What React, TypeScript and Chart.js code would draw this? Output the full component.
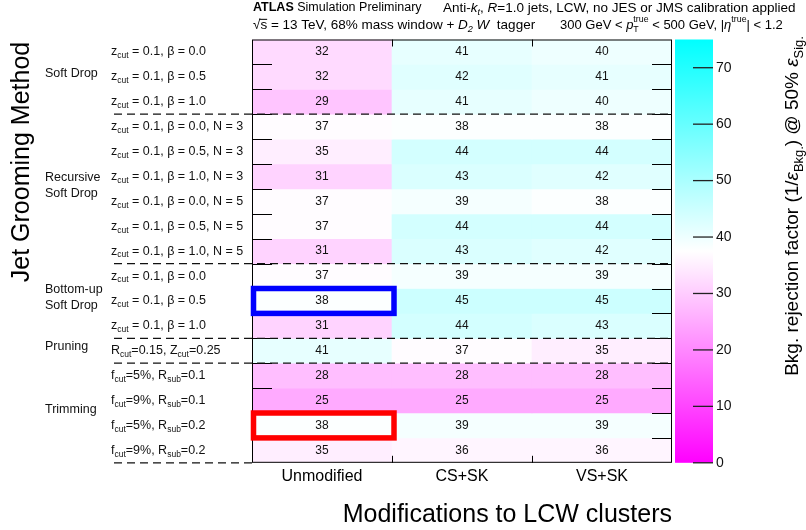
import React, { useEffect, useRef } from "react";
import { Chart, registerables } from "chart.js";

Chart.register(...registerables);

const FONT = "'Liberation Sans', Arial, Helvetica, sans-serif";

// ---------- data ----------
const columns = ["Unmodified", "CS+SK", "VS+SK"];
const rowLabels = [
  "z_{cut} = 0.1, β = 0.0",
  "z_{cut} = 0.1, β = 0.5",
  "z_{cut} = 0.1, β = 1.0",
  "z_{cut} = 0.1, β = 0.0, N = 3",
  "z_{cut} = 0.1, β = 0.5, N = 3",
  "z_{cut} = 0.1, β = 1.0, N = 3",
  "z_{cut} = 0.1, β = 0.0, N = 5",
  "z_{cut} = 0.1, β = 0.5, N = 5",
  "z_{cut} = 0.1, β = 1.0, N = 5",
  "z_{cut} = 0.1, β = 0.0",
  "z_{cut} = 0.1, β = 0.5",
  "z_{cut} = 0.1, β = 1.0",
  "R_{cut}=0.15, Z_{cut}=0.25",
  "f_{cut}=5%, R_{sub}=0.1",
  "f_{cut}=9%, R_{sub}=0.1",
  "f_{cut}=5%, R_{sub}=0.2",
  "f_{cut}=9%, R_{sub}=0.2",
];
const unmodified = [32, 32, 29, 37, 35, 31, 37, 37, 31, 37, 38, 31, 41, 28, 25, 38, 35];
const csSk = [41, 42, 41, 38, 44, 43, 39, 44, 43, 39, 45, 44, 37, 28, 25, 39, 36];
const vsSk = [40, 41, 40, 38, 44, 42, 38, 44, 42, 39, 45, 43, 35, 28, 25, 39, 36];

const groupNames = [["Soft Drop"], ["Recursive", "Soft Drop"], ["Bottom-up", "Soft Drop"], ["Pruning"], ["Trimming"]];
const groupFirstRow = [0, 3, 9, 12, 13];
const groupLastRow = [2, 8, 11, 12, 16];

const highlightRows = [10, 15];
const highlightCols = [0, 0];
const highlightColors = ["#0000ff", "#ff0000"];

const colorbarTicks = [0, 10, 20, 30, 40, 50, 60, 70];
const zMin = 0;
const zMax = 75;

const xTitle = "Modifications to LCW clusters";
const yTitle = "Jet Grooming Method";

const matrix = [unmodified, csSk, vsSk];

// ---------- helpers ----------
function heat(v: number): string {
  const t = Math.max(0, Math.min(1, (v - zMin) / (zMax - zMin)));
  if (t < 0.5) {
    const s = t / 0.5;
    return `rgb(255,${Math.round(255 * s)},255)`;
  }
  const s = (t - 0.5) / 0.5;
  return `rgb(${Math.round(255 * (1 - s))},255,255)`;
}

type Seg = { t: string; mode?: "sub" | "sup"; italic?: boolean; bold?: boolean; over?: boolean; under?: string };

function parseLabel(s: string): Seg[] {
  const segs: Seg[] = [];
  const re = /_\{([^}]*)\}/g;
  let last = 0;
  let m: RegExpExecArray | null;
  while ((m = re.exec(s))) {
    if (m.index > last) segs.push({ t: s.slice(last, m.index) });
    segs.push({ t: m[1], mode: "sub" });
    last = m.index + m[0].length;
  }
  if (last < s.length) segs.push({ t: s.slice(last) });
  return segs;
}

function drawRich(ctx: CanvasRenderingContext2D, segs: Seg[], x: number, y: number, size: number, dry = false): number {
  let cx = x;
  ctx.textAlign = "left";
  ctx.textBaseline = "middle";
  for (const s of segs) {
    const sz = s.mode ? size * 0.68 : size;
    ctx.font = `${s.italic ? "italic " : ""}${s.bold ? "bold " : ""}${sz}px ${FONT}`;
    const dy = s.mode === "sub" ? size * 0.32 : s.mode === "sup" ? -size * 0.38 : 0;
    let w = ctx.measureText(s.t).width;
    if (!dry) ctx.fillText(s.t, cx, y + dy);
    if (s.under !== undefined) {
      if (!dry) ctx.fillText(s.under, cx, y + size * 0.38);
      w = Math.max(w, ctx.measureText(s.under).width);
    }
    if (s.over && !dry) {
      ctx.save();
      ctx.lineWidth = 1;
      ctx.strokeStyle = ctx.fillStyle as string;
      ctx.beginPath();
      ctx.moveTo(cx - 1, y - size * 0.42);
      ctx.lineTo(cx + w, y - size * 0.42);
      ctx.stroke();
      ctx.restore();
    }
    cx += w;
  }
  return cx - x;
}

const overlay = {
  id: "overlay",
  afterDatasetsDraw(chart: any) {
    const ctx: CanvasRenderingContext2D = chart.ctx;
    const { left, right, top, bottom } = chart.chartArea;
    const yS = chart.scales.y;
    ctx.save();

    // cell numbers
    ctx.fillStyle = "#111";
    ctx.font = `12px ${FONT}`;
    ctx.textAlign = "center";
    ctx.textBaseline = "middle";
    const colEdges: number[] = [];
    chart.data.datasets.forEach((_ds: any, r: number) => {
      const meta = chart.getDatasetMeta(r);
      meta.data.forEach((el: any, ci: number) => {
        const p = el.getProps(["x", "y", "base", "width"], true);
        ctx.fillText(String(matrix[ci][r]), p.x, (p.y + p.base) / 2);
        if (r === 0) {
          colEdges[ci] = p.x - p.width / 2;
          colEdges[ci + 1] = p.x + p.width / 2;
        }
      });
    });

    // frame
    ctx.strokeStyle = "#000";
    ctx.lineWidth = 1;
    ctx.strokeRect(left + 0.5, top + 0.5, right - left - 1, bottom - top - 1);

    // ticks
    ctx.beginPath();
    for (let k = 1; k < rowLabels.length; k++) {
      const yy = Math.round(yS.getPixelForValue(k)) + 0.5;
      ctx.moveTo(left, yy);
      ctx.lineTo(left + 20, yy);
      ctx.moveTo(right - 20, yy);
      ctx.lineTo(right, yy);
    }
    for (let c = 1; c < columns.length; c++) {
      const xx = Math.round(colEdges[c]) + 0.5;
      ctx.moveTo(xx, top);
      ctx.lineTo(xx, top + 7);
      ctx.moveTo(xx, bottom);
      ctx.lineTo(xx, bottom - 7);
    }
    ctx.stroke();

    // dashed separators
    ctx.save();
    ctx.setLineDash([8, 5]);
    ctx.lineWidth = 1.3;
    ctx.strokeStyle = "#111";
    ctx.beginPath();
    groupLastRow.forEach((lr) => {
      const yy = yS.getPixelForValue(lr + 1);
      const isBottom = lr + 1 === rowLabels.length;
      ctx.moveTo(114, yy);
      ctx.lineTo(isBottom ? left : right, yy);
    });
    ctx.stroke();
    ctx.restore();

    // highlight boxes
    highlightRows.forEach((r, i) => {
      const el = chart.getDatasetMeta(r).data[highlightCols[i]];
      const p = el.getProps(["x", "y", "base", "width"], true);
      const y0 = Math.min(p.y, p.base);
      const y1 = Math.max(p.y, p.base);
      ctx.lineWidth = 5.5;
      ctx.strokeStyle = highlightColors[i];
      ctx.strokeRect(p.x - p.width / 2 + 1.5, y0, p.width + 0.5, y1 - y0);
    });

    // row labels
    ctx.fillStyle = "#111";
    rowLabels.forEach((lab, r) => {
      const yy = yS.getPixelForValue(r + 0.5);
      drawRich(ctx, parseLabel(lab), 111, yy, 12.5);
    });

    // group labels
    groupNames.forEach((lines, g) => {
      const center = yS.getPixelForValue((groupFirstRow[g] + groupLastRow[g] + 1) / 2 - 0.15);
      const lh = 16;
      lines.forEach((ln, i) => {
        ctx.font = `12.5px ${FONT}`;
        ctx.textAlign = "left";
        ctx.textBaseline = "middle";
        ctx.fillText(ln, 45, center + (i - (lines.length - 1) / 2) * lh);
      });
    });

    // y title
    ctx.save();
    ctx.translate(22, 162);
    ctx.rotate(-Math.PI / 2);
    ctx.font = `25px ${FONT}`;
    ctx.fillStyle = "#000";
    ctx.textAlign = "center";
    ctx.textBaseline = "middle";
    ctx.fillText(yTitle, 0, 0);
    ctx.restore();

    // header
    ctx.fillStyle = "#000";
    drawRich(ctx, [{ t: "ATLAS", bold: true }, { t: " Simulation Preliminary" }], 253, 8, 12.5);
    drawRich(
      ctx,
      [
        { t: "Anti-" },
        { t: "k", italic: true },
        { t: "t", mode: "sub", italic: true },
        { t: ", " },
        { t: "R", italic: true },
        { t: "=1.0 jets, LCW, no JES or JMS calibration applied" },
      ],
      443,
      8,
      13.5
    );
    drawRich(
      ctx,
      [
        { t: "√" },
        { t: "s", over: true },
        { t: " = 13 TeV, 68% mass window + " },
        { t: "D", italic: true },
        { t: "2", mode: "sub", italic: true },
        { t: " " },
        { t: "W", italic: true },
        { t: "  tagger" },
      ],
      253,
      25,
      13.5
    );
    drawRich(
      ctx,
      [
        { t: "300 GeV < " },
        { t: "p", italic: true },
        { t: "true", mode: "sup", under: "T" },
        { t: " < 500 GeV, |" },
        { t: "η", italic: true },
        { t: "true", mode: "sup" },
        { t: "| < 1.2" },
      ],
      560,
      25,
      13
    );

    // colour bar
    const cbL = 675;
    const cbR = 713;
    const grad = ctx.createLinearGradient(0, bottom, 0, top);
    const nStops = 20;
    for (let i = 0; i <= nStops; i++) {
      const v = zMin + ((zMax - zMin) * i) / nStops;
      grad.addColorStop(i / nStops, heat(v));
    }
    ctx.fillStyle = grad;
    ctx.fillRect(cbL, top, cbR - cbL, bottom - top);
    ctx.strokeStyle = "#222";
    ctx.lineWidth = 1.3;
    ctx.fillStyle = "#111";
    ctx.font = `14px ${FONT}`;
    ctx.textAlign = "left";
    ctx.textBaseline = "middle";
    colorbarTicks.forEach((v) => {
      const yy = bottom - ((v - zMin) / (zMax - zMin)) * (bottom - top);
      ctx.beginPath();
      ctx.moveTo(cbR - 20, yy);
      ctx.lineTo(cbR, yy);
      ctx.stroke();
      ctx.fillText(String(v), cbR + 3, yy);
    });

    // colour bar title
    const zSegs: Seg[] = [
      { t: "Bkg. rejection factor (1/" },
      { t: "ε", italic: true },
      { t: "Bkg.", mode: "sub" },
      { t: ") @ 50% " },
      { t: "ε", italic: true },
      { t: "Sig.", mode: "sub" },
    ];
    ctx.save();
    ctx.translate(793, 206);
    ctx.rotate(-Math.PI / 2);
    ctx.fillStyle = "#000";
    const w = drawRich(ctx, zSegs, 0, 0, 19, true);
    drawRich(ctx, zSegs, -w / 2, 0, 19);
    ctx.restore();

    ctx.restore();
  },
};

export default function App() {
  const ref = useRef<HTMLCanvasElement | null>(null);
  useEffect(() => {
    document.body.style.margin = "0";
    const canvas = ref.current;
    if (!canvas) return;
    const datasets = rowLabels.map((lab, r) => ({
      label: lab,
      data: columns.map((c) => ({ x: c, y: [r, r + 1] })),
      backgroundColor: columns.map((_c, ci) => heat(matrix[ci][r])),
      borderWidth: 0,
      grouped: false,
      barPercentage: 1,
      categoryPercentage: 1,
    }));
    const chart = new Chart(canvas, {
      type: "bar",
      data: { labels: columns, datasets: datasets as any },
      options: {
        responsive: false,
        animation: false,
        events: [],
        layout: { padding: { left: 252, right: 134, top: 39.5, bottom: 0 } },
        plugins: { legend: { display: false }, tooltip: { enabled: false } },
        scales: {
          x: {
            type: "category",
            offset: true,
            grid: { display: false, drawTicks: false },
            border: { display: false },
            ticks: { color: "#000", font: { size: 16, family: FONT }, padding: 4 },
            title: {
              display: true,
              text: xTitle,
              align: "end",
              color: "#000",
              font: { size: 25, family: FONT },
              padding: { top: 10, bottom: 0 },
            },
          },
          y: { type: "linear", min: 0, max: rowLabels.length, reverse: true, display: false },
        },
      },
      plugins: [overlay],
    });
    return () => chart.destroy();
  }, []);
  return (
    <div style={{ position: "absolute", left: 0, top: 0, width: 806, height: 530, background: "#fff" }}>
      <canvas ref={ref} width={806} height={530} style={{ display: "block" }} />
    </div>
  );
}
